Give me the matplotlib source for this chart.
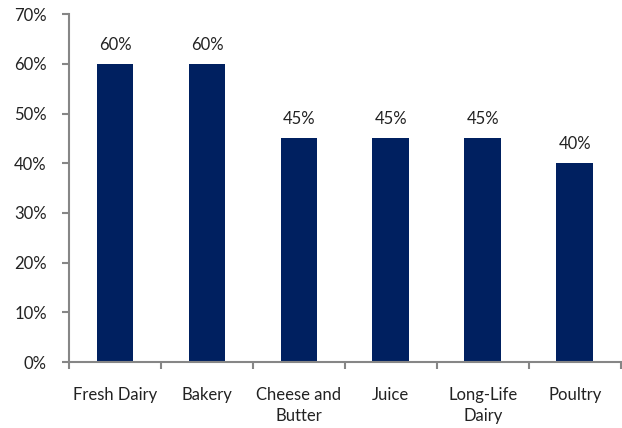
import numpy as np
import matplotlib.pyplot as plt
from matplotlib.ticker import PercentFormatter, FixedLocator

categories = ['Fresh Dairy', 'Bakery', 'Cheese and\nButter', 'Juice', 'Long-Life\nDairy', 'Poultry']
values = [60, 60, 45, 45, 45, 40]

plt.rcParams['font.family'] = ['Lato', 'DejaVu Sans']
axis_grey = '#868686'

fig = plt.figure(figsize=(6.22, 4.28), dpi=100)
ax = fig.add_axes([0.111, 0.154, 0.887, 0.813])

x = np.arange(len(categories))
bars = ax.bar(x, values, width=0.4, color='#002060')

for b, v in zip(bars, values):
    ax.annotate(f'{v}%', (b.get_x() + b.get_width() / 2, v), xytext=(0, 8),
                textcoords='offset points', ha='center', va='bottom', fontsize=12, color='#222222')

ax.set_xlim(-0.5, len(categories) - 0.5)
ax.set_ylim(0, 70)
ax.set_yticks(np.arange(0, 71, 10))
ax.yaxis.set_major_formatter(PercentFormatter(decimals=0))
ax.set_xticks(x)
ax.set_xticklabels(categories, fontsize=12, color='#222222', linespacing=1.35)
ax.xaxis.set_minor_locator(FixedLocator(np.arange(-0.5, len(categories), 1)))

ax.tick_params(axis='x', which='major', length=0, pad=18)
ax.tick_params(axis='x', which='minor', length=5, color=axis_grey, width=1.5, direction='out')
ax.tick_params(axis='y', length=5, color=axis_grey, width=1.5, pad=11, labelsize=12, labelcolor='#222222')

for s in ['top', 'right']:
    ax.spines[s].set_visible(False)
for s in ['left', 'bottom']:
    ax.spines[s].set_color(axis_grey)
    ax.spines[s].set_linewidth(1.5)

fig.savefig('out.png', dpi=100)
